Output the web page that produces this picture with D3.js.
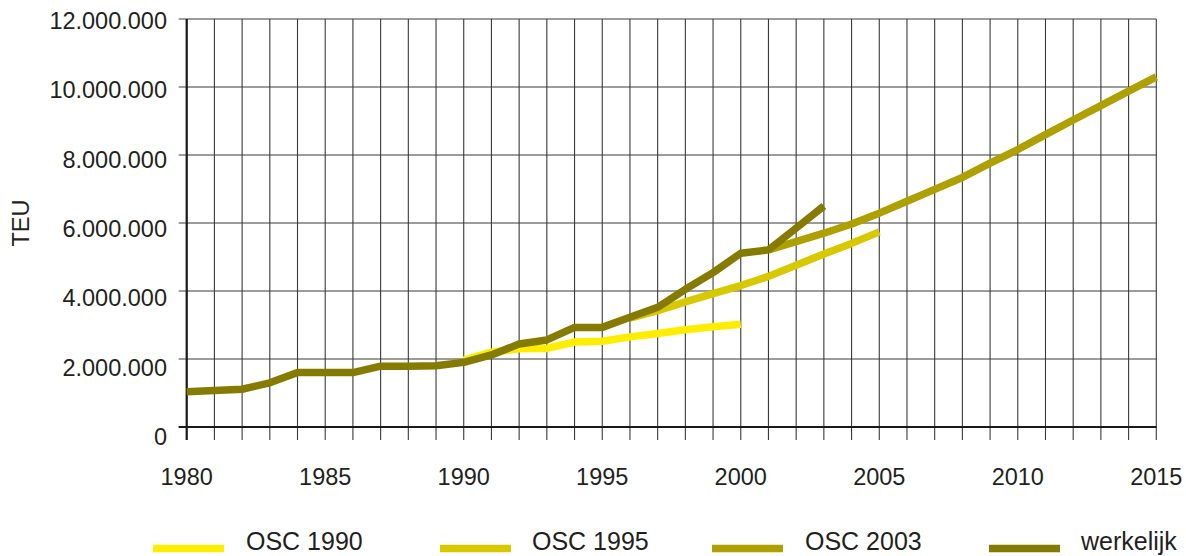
<!DOCTYPE html>
<html>
<head lang="nl">
    <meta charset="UTF-8">
    <script type="text/javascript" src="https://d3js.org/d3.v7.min.js"></script>
    <style>
        body { margin: 0; background: #fff; }
        text { font-family: "Liberation Sans", Arial, sans-serif; fill: #231f20; }
    </style>
</head>
<body>
    <svg id="chart" width="1186" height="556"></svg>
    <script>
        // values in TEU (millions)
        var yearsWerkelijk = d3.range(1980, 2004);
        var werkelijk = [1.04, 1.07, 1.11, 1.30, 1.60, 1.60, 1.60, 1.79, 1.79, 1.80, 1.90, 2.12,
                         2.44, 2.56, 2.93, 2.93, 3.23, 3.52, 4.05, 4.54, 5.11, 5.21, 5.85, 6.50];

        var yearsOsc1990 = d3.range(1990, 2001);
        var osc1990 = [1.97, 2.20, 2.30, 2.31, 2.50, 2.52, 2.65, 2.75, 2.86, 2.95, 3.02];

        var yearsOsc1995 = d3.range(1996, 2006);
        var osc1995 = [3.20, 3.42, 3.68, 3.92, 4.16, 4.43, 4.76, 5.09, 5.40, 5.74];

        var yearsOsc2003 = d3.range(2001, 2016);
        var osc2003 = [5.21, 5.45, 5.70, 5.97, 6.29, 6.64, 6.99, 7.34, 7.76, 8.16, 8.60, 9.03, 9.45, 9.88, 10.30];

        var seriesNames = ["OSC 1990", "OSC 1995", "OSC 2003", "werkelijk"];
        var seriesColors = ["#ffed00", "#d7c800", "#ada000", "#857b00"];
        var yTicks = [0, 2000000, 4000000, 6000000, 8000000, 10000000, 12000000];
        var xTicks = [1980, 1985, 1990, 1995, 2000, 2005, 2010, 2015];

        var svg = d3.select("#chart");

        var xScale = d3.scaleLinear().domain([1980, 2015]).range([186.7, 1156.3]);
        var yScale = d3.scaleLinear().domain([0, 12000000]).range([427, 19]);
        // tick labels in the original sit on an even spacing slightly below the grid
        var yLabelScale = d3.scaleLinear().domain([0, 12000000]).range([436.5, 20.5]);

        var fmt = function(v){
            return d3.format(",")(v).replace(/,/g, ".");
        };

        // vertical grid, one line per year (runs past the axis as a tick)
        svg.append("g")
            .selectAll("line")
            .data(d3.range(1980, 2016))
            .enter()
            .append("line")
                .attr("x1", function(d){ return xScale(d); })
                .attr("x2", function(d){ return xScale(d); })
                .attr("y1", yScale(12000000))
                .attr("y2", yScale(0) + 13)
                .attr("stroke", "#3a3a3a")
                .attr("stroke-width", 1.1);

        // horizontal grid
        svg.append("g")
            .selectAll("line")
            .data(yTicks)
            .enter()
            .append("line")
                .attr("x1", xScale(1980) - 8)
                .attr("x2", xScale(2015))
                .attr("y1", function(d){ return yScale(d); })
                .attr("y2", function(d){ return yScale(d); })
                .attr("stroke", "#3a3a3a")
                .attr("stroke-width", 1.1);

        // axes lines
        svg.append("line")
            .attr("x1", xScale(1980)).attr("x2", xScale(1980))
            .attr("y1", yScale(12000000)).attr("y2", yScale(0) + 13)
            .attr("stroke", "#1a1a1a").attr("stroke-width", 2.2);
        svg.append("line")
            .attr("x1", xScale(1980) - 8).attr("x2", xScale(2015))
            .attr("y1", yScale(0)).attr("y2", yScale(0))
            .attr("stroke", "#1a1a1a").attr("stroke-width", 2.2);

        // y labels
        svg.append("g")
            .selectAll("text")
            .data(yTicks)
            .enter()
            .append("text")
                .attr("x", 167)
                .attr("y", function(d){ return yLabelScale(d); })
                .attr("dy", "0.36em")
                .attr("text-anchor", "end")
                .style("font-size", "23.5px")
                .text(function(d){ return fmt(d); });

        // x labels
        svg.append("g")
            .selectAll("text")
            .data(xTicks)
            .enter()
            .append("text")
                .attr("x", function(d){ return xScale(d); })
                .attr("y", 485)
                .attr("text-anchor", "middle")
                .style("font-size", "23.5px")
                .text(function(d){ return d; });

        // axis title
        svg.append("text")
            .attr("transform", "translate(21,223) rotate(-90)")
            .attr("dy", "0.36em")
            .attr("text-anchor", "middle")
            .style("font-size", "23.5px")
            .text("TEU");

        // lines
        var line = d3.line()
            .x(function(d){ return xScale(d[0]); })
            .y(function(d){ return yScale(d[1] * 1000000); });

        var allSeries = [
            d3.zip(yearsOsc1990, osc1990),
            d3.zip(yearsOsc1995, osc1995),
            d3.zip(yearsOsc2003, osc2003),
            d3.zip(yearsWerkelijk, werkelijk)
        ];

        svg.append("g")
            .selectAll("path")
            .data(allSeries)
            .enter()
            .append("path")
                .attr("d", line)
                .attr("fill", "none")
                .attr("stroke", function(d, i){ return seriesColors[i]; })
                .attr("stroke-width", 7.5)
                .attr("stroke-linejoin", "round");

        // legend
        var legendSwatchX = [153, 440, 712, 989];
        var legendTextX = [246, 532, 805, 1081];

        var legend = svg.append("g")
            .selectAll("g")
            .data(seriesNames)
            .enter()
            .append("g");

        legend.append("line")
            .attr("x1", function(d, i){ return legendSwatchX[i]; })
            .attr("x2", function(d, i){ return legendSwatchX[i] + 71; })
            .attr("y1", 548.5)
            .attr("y2", 548.5)
            .attr("stroke", function(d, i){ return seriesColors[i]; })
            .attr("stroke-width", 7.5);

        legend.append("text")
            .attr("x", function(d, i){ return legendTextX[i]; })
            .attr("y", 550)
            .style("font-size", "25px")
            .text(function(d){ return d; });
    </script>
</body>
</html>
